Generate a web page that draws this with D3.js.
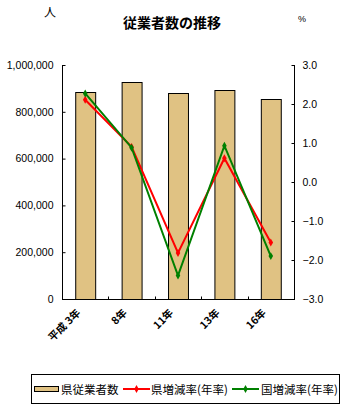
<!DOCTYPE html>
<html>
<head>
<meta charset="utf-8">
<script src="https://cdn.jsdelivr.net/npm/d3@7"></script>
<style>
  html, body { margin: 0; padding: 0; background: #fff; }
  svg { display: block; }
  text { font-family: "Liberation Sans", Arial, sans-serif; fill: #000; }
  .jp { font-family: "Noto Sans CJK JP", sans-serif; }
</style>
</head>
<body>
<svg id="chart" width="345" height="412"></svg>
<script>
// 調査年
const categories = ["平成 3年", "8年", "11年", "13年", "16年"];
// 県従業者数（人）
const employees = [883000, 926000, 879000, 892000, 853000];
// 県増減率（年率, %）
const prefRate = [2.11, 0.90, -1.82, 0.61, -1.55];
// 国増減率（年率, %）
const natRate = [2.27, 0.88, -2.40, 0.93, -1.90];
// 軸目盛
const leftTicks = [0, 200000, 400000, 600000, 800000, 1000000];
const rightTicks = [-3, -2, -1, 0, 1, 2, 3];

const svg = d3.select("#chart");
const plot = { left: 62, right: 294, top: 65, bottom: 299 };

const x = d3.scaleBand().domain(categories).range([plot.left, plot.right]).paddingInner(0.57).paddingOuter(0.285);
const xc = d3.scalePoint().domain(categories).range([plot.left, plot.right]).padding(0.5);
const yL = d3.scaleLinear().domain([0, 1000000]).range([plot.bottom, plot.top]);
const yR = d3.scaleLinear().domain([-3, 3]).range([plot.bottom, plot.top]);

// タイトルと単位
svg.append("text").attr("class", "jp").attr("x", 172).attr("y", 28)
  .attr("text-anchor", "middle").attr("font-size", 14).attr("font-weight", "bold").text("従業者数の推移");
svg.append("text").attr("class", "jp").attr("x", 50).attr("y", 17)
  .attr("text-anchor", "middle").attr("font-size", 12).text("人");
svg.append("text").attr("x", 302).attr("y", 22)
  .attr("text-anchor", "middle").attr("font-size", 9).text("%");

// 棒グラフ
svg.append("g").selectAll("rect").data(employees).join("rect")
  .attr("x", (d, i) => x(categories[i]) + 0.5)
  .attr("y", d => Math.round(yL(d)) + 0.5)
  .attr("width", x.bandwidth())
  .attr("height", d => plot.bottom - Math.round(yL(d)))
  .attr("fill", "#e0c283").attr("stroke", "#000").attr("stroke-width", 1);

// 左軸
const gL = svg.append("g").attr("transform", `translate(${plot.left + 0.5},0)`)
  .call(d3.axisRight(yL).tickValues(leftTicks).tickSize(3).tickFormat(d3.format(",")));
gL.select(".domain").attr("d", `M0,${plot.top}V${plot.bottom}`);
gL.selectAll("text").attr("x", -9).attr("text-anchor", "end").attr("font-size", 10.5)
  .style("font-family", "'Liberation Sans', Arial, sans-serif");

// 右軸
const gR = svg.append("g").attr("transform", `translate(${plot.right + 0.5},0)`)
  .call(d3.axisLeft(yR).tickValues(rightTicks).tickSize(3).tickFormat(d => d3.format(".1f")(d).replace("-", "−")));
gR.select(".domain").attr("d", `M0,${plot.top}V${plot.bottom}`);
gR.selectAll("text").attr("x", 8).attr("text-anchor", "start").attr("font-size", 10.5)
  .style("font-family", "'Liberation Sans', Arial, sans-serif");

// 下軸（区切り目盛）
const gB = svg.append("g").attr("transform", `translate(0,${plot.bottom + 0.5})`);
gB.append("line").attr("x1", plot.left).attr("x2", plot.right + 1).attr("stroke", "#000");
const step = (plot.right - plot.left) / categories.length;
gB.selectAll("line.t").data(d3.range(1, categories.length)).join("line").attr("class", "t")
  .attr("x1", i => Math.round(plot.left + step * i) + 0.5).attr("x2", i => Math.round(plot.left + step * i) + 0.5)
  .attr("y1", 0).attr("y2", -3).attr("stroke", "#000");
gB.selectAll("text").data(categories).join("text").attr("class", "jp")
  .attr("transform", d => `translate(${xc(d) - 4},${14}) rotate(-45)`)
  .attr("text-anchor", "end").attr("font-size", 10.5).attr("font-weight", "bold").text(d => d);

// 折れ線
const diamond = d3.symbol().type(d3.symbolDiamond).size(18);
function series(vals, color) {
  const line = d3.line().x((d, i) => xc(categories[i])).y(d => yR(d));
  svg.append("path").datum(vals).attr("d", line).attr("fill", "none")
    .attr("stroke", color).attr("stroke-width", 2);
  svg.append("g").selectAll("path").data(vals).join("path")
    .attr("transform", (d, i) => `translate(${xc(categories[i])},${yR(d)})`)
    .attr("d", diamond).attr("fill", color);
}
series(prefRate, "#ff0000");
series(natRate, "#008000");

// 凡例
const lg = svg.append("g");
lg.append("rect").attr("x", 31.5).attr("y", 374.5).attr("width", 308).attr("height", 29)
  .attr("fill", "#fff").attr("stroke", "#000");
lg.append("rect").attr("x", 34.5).attr("y", 386.5).attr("width", 24).attr("height", 5)
  .attr("fill", "#e0c283").attr("stroke", "#000");
lg.append("text").attr("class", "jp").attr("x", 61).attr("y", 394).attr("font-size", 11.5).text("県従業者数");
const items = [["県増減率(年率)", "#ff0000", 123, 151], ["国増減率(年率)", "#008000", 232, 261]];
items.forEach(([label, color, lx, tx]) => {
  lg.append("line").attr("x1", lx).attr("x2", lx + 27).attr("y1", 389).attr("y2", 389)
    .attr("stroke", color).attr("stroke-width", 2);
  lg.append("path").attr("transform", `translate(${lx + 13.5},389)`).attr("d", diamond).attr("fill", color);
  lg.append("text").attr("class", "jp").attr("x", tx).attr("y", 394).attr("font-size", 11.5).text(label);
});
</script>
</body>
</html>
